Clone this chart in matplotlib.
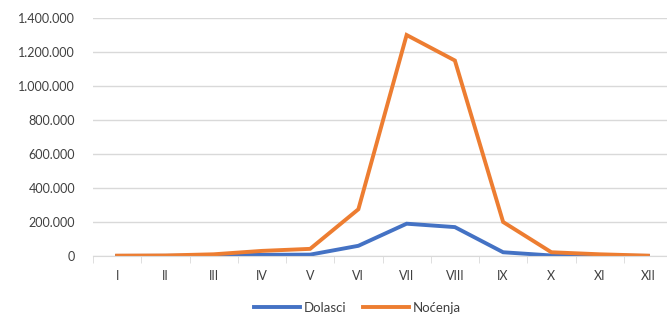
import matplotlib.pyplot as plt
from matplotlib.ticker import FuncFormatter

# podaci po mjesecima
months = ['I', 'II', 'III', 'IV', 'V', 'VI', 'VII', 'VIII', 'IX', 'X', 'XI', 'XII']
dolasci = [500, 1000, 2000, 7000, 8000, 60000, 190000, 170000, 22000, 3000, 1500, 500]
nocenja = [2000, 3000, 10000, 30000, 42000, 275000, 1300000, 1150000, 200000, 22000, 10000, 2000]

plt.rcParams['font.family'] = ['Lato', 'DejaVu Sans']

fig = plt.figure(figsize=(6.67, 3.16), dpi=100)
ax = fig.add_axes([93 / 667, 60 / 316, 579 / 667, 238 / 316])

x = range(len(months))
ax.plot(x, dolasci, color='#4472C4', lw=2.8, label='Dolasci', solid_joinstyle='miter')
ax.plot(x, nocenja, color='#ED7D31', lw=2.8, label='Noćenja', solid_joinstyle='miter')

ax.set_xlim(-0.5, 11.5)
ax.set_ylim(0, 1400000)
ax.set_yticks(range(0, 1400001, 200000))
ax.yaxis.set_major_formatter(FuncFormatter(lambda v, p: f'{int(v):,}'.replace(',', '.')))
ax.set_xticks(list(x))
ax.set_xticklabels(months)
ax.set_xticks([i - 0.5 for i in range(13)], minor=True)

ax.grid(axis='y', color='#D9D9D9', lw=1)
ax.set_axisbelow(True)
for s in ['top', 'right', 'left']:
    ax.spines[s].set_visible(False)
ax.spines['bottom'].set_color('#D9D9D9')
ax.tick_params(axis='y', length=0, pad=13, labelsize=9, colors='#404040')
ax.tick_params(axis='x', which='major', length=0, pad=10, labelsize=9, colors='#404040')
ax.tick_params(axis='x', which='minor', length=5, color='#D9D9D9')

fig.legend(loc='lower center', ncol=2, frameon=False, fontsize=9.5,
           bbox_to_anchor=(0.536, -0.03), handlelength=3.5, handletextpad=0.3,
           columnspacing=1.2, labelcolor='#404040')

fig.savefig('out.png', dpi=100)
